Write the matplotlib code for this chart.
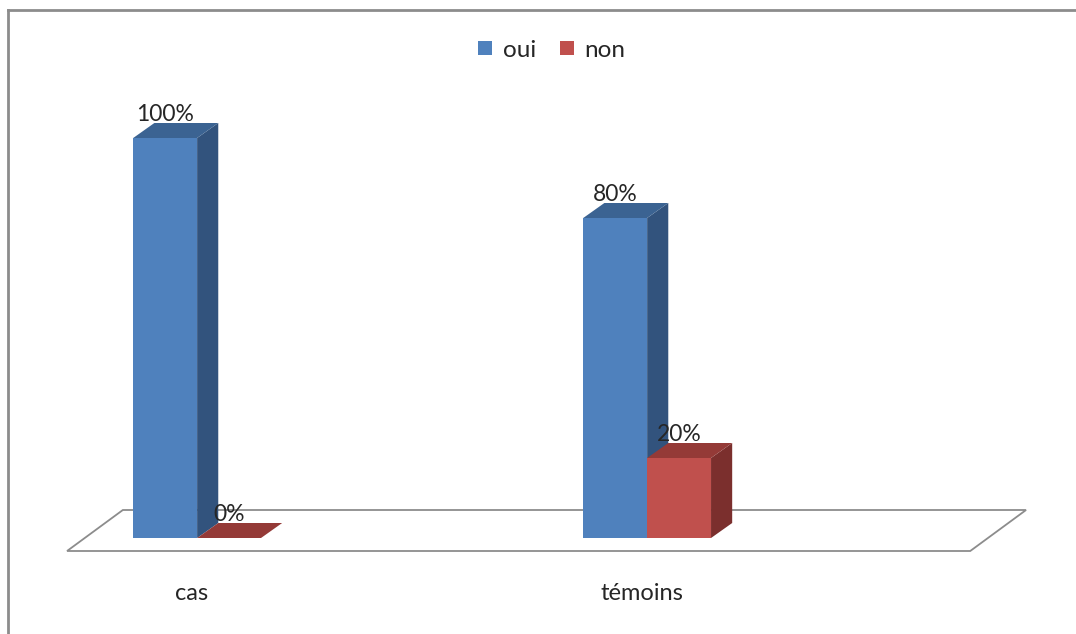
import matplotlib
matplotlib.use("Agg")
import matplotlib.pyplot as plt
from matplotlib.patches import Polygon, Patch
from matplotlib.lines import Line2D

plt.rcParams["font.family"] = ["Lato", "DejaVu Sans"]

# data
categories = ["cas", "témoins"]
series_names = ["oui", "non"]
oui_values = [100, 80]
non_values = [0, 20]

front_colors = ["#4F81BD", "#C0504D"]
top_colors = ["#3B6392", "#943A37"]
side_colors = ["#32537D", "#7B2F2D"]
text_color = "#262626"

fig = plt.figure(figsize=(10.76, 6.34), dpi=100)
ax = fig.add_axes([0, 0, 1, 1])
ax.set_xlim(-0.438, 1.953)
ax.set_ylim(-24, 134.5)
ax.axis("off")

bar_w = 0.142
dx, dy = 0.047, 3.75          # depth of each bar
floor_front, floor_back = -3.25, 7.0
floor_left, floor_right, floor_dx = -0.289, 1.718, 0.124

# floor of the 3d box
floor = Polygon([(floor_left, floor_front), (floor_right, floor_front),
                 (floor_right + floor_dx, floor_back), (floor_left + floor_dx, floor_back)],
                closed=True, facecolor="white", edgecolor="#8c8c8c", linewidth=1.3, zorder=1)
ax.add_patch(floor)

series = [oui_values, non_values]
for i, cat in enumerate(categories):
    for s, vals in enumerate(series):
        v = vals[i]
        left = i - bar_w + s * bar_w
        right = left + bar_w
        z = 2 + s
        ax.bar(left, v, width=bar_w, align="edge", color=front_colors[s], zorder=z, linewidth=0)
        top = Polygon([(left, v), (right, v), (right + dx, v + dy), (left + dx, v + dy)],
                      closed=True, facecolor=top_colors[s], edgecolor="none", zorder=z)
        side = Polygon([(right, 0), (right, v), (right + dx, v + dy), (right + dx, dy)],
                       closed=True, facecolor=side_colors[s], edgecolor="none", zorder=z)
        ax.add_patch(side)
        ax.add_patch(top)
        ax.text(left + bar_w / 2, v + dy - 0.4, f"{v}%", ha="center", va="bottom",
                fontsize=16.5, color=text_color, zorder=10)
    ax.text(i - 0.012, -13.8, cat, ha="center", va="center", fontsize=17, color=text_color)

handles = [Patch(facecolor=c, edgecolor="none") for c in front_colors]
fig.legend(handles, series_names, loc="center", bbox_to_anchor=(0.513, 0.921), ncol=2,
           frameon=False, fontsize=17.5, handlelength=0.55, handleheight=0.55,
           handletextpad=0.45, columnspacing=1.0, labelcolor=text_color)

# outer border of the chart area
fig.add_artist(Line2D([8 / 1076, 8 / 1076], [0, 1 - 10 / 634], transform=fig.transFigure,
                      color="#8c8c8c", linewidth=2))
fig.add_artist(Line2D([8 / 1076, 1], [1 - 10 / 634, 1 - 10 / 634], transform=fig.transFigure,
                      color="#8c8c8c", linewidth=2))

fig.savefig("out.png", dpi=100, facecolor="white")
